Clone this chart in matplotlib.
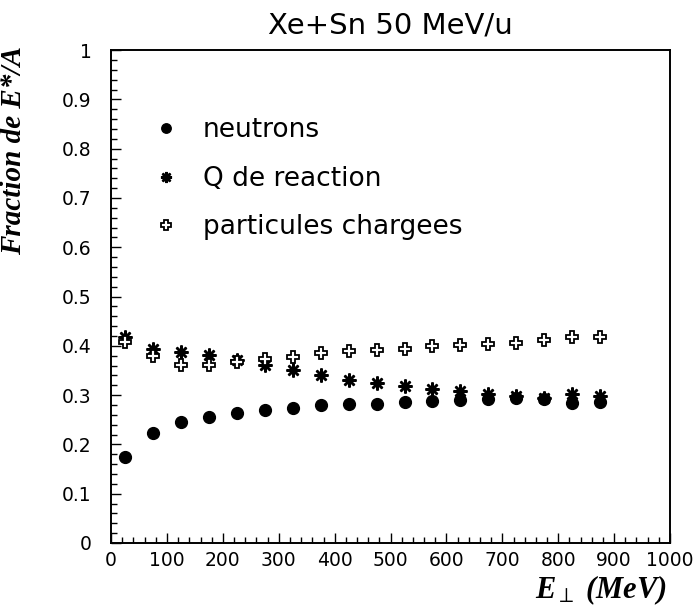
import matplotlib
matplotlib.use("Agg")
import matplotlib.pyplot as plt
from matplotlib.ticker import MultipleLocator

# transverse energy bins (MeV)
e_perp = [25, 75, 125, 175, 225, 275, 325, 375, 425,
          475, 525, 575, 625, 675, 725, 775, 825, 875]

# fraction of E*/A carried by each channel
neutrons = [0.175, 0.224, 0.245, 0.256, 0.264, 0.270, 0.274, 0.279, 0.282,
            0.283, 0.287, 0.289, 0.290, 0.293, 0.295, 0.293, 0.285, 0.286]
q_reaction = [0.417, 0.394, 0.387, 0.381, 0.371, 0.361, 0.350, 0.340, 0.331,
              0.325, 0.318, 0.313, 0.309, 0.303, 0.298, 0.295, 0.302, 0.298]
charged = [0.407, 0.380, 0.361, 0.361, 0.368, 0.373, 0.378, 0.385, 0.389,
           0.392, 0.394, 0.399, 0.402, 0.404, 0.406, 0.412, 0.418, 0.417]

labels = ["neutrons", "Q de reaction", "particules chargees"]
title = "Xe+Sn 50 MeV/u"

plt.rcParams['font.family'] = ['DejaVu Sans']
plt.rcParams['mathtext.fontset'] = 'custom'
plt.rcParams['mathtext.it'] = 'Liberation Serif:bold:italic'
plt.rcParams['mathtext.rm'] = 'Liberation Serif:bold:italic'

fig = plt.figure(figsize=(6.99, 6.11), dpi=100)
ax = fig.add_axes([0.159, 0.1113, 0.7995, 0.8067])

ax.plot(e_perp, neutrons, ls='none', marker='o', ms=8.5, color='black',
        label=labels[0])
ax.plot(e_perp, q_reaction, ls='none', marker=(8, 2, 0), ms=10, mew=1.8,
        color='black', label=labels[1])
ax.plot(e_perp, charged, ls='none', marker='P', ms=8.5, mew=1.3,
        mfc='white', mec='black', label=labels[2])

ax.set_xlim(0, 1000)
ax.set_ylim(0, 1)
ax.xaxis.set_major_locator(MultipleLocator(100))
ax.xaxis.set_minor_locator(MultipleLocator(20))
ax.yaxis.set_major_locator(MultipleLocator(0.1))
ax.yaxis.set_minor_locator(MultipleLocator(0.02))
ax.set_yticks([0, 0.1, 0.2, 0.3, 0.4, 0.5, 0.6, 0.7, 0.8, 0.9, 1.0])
ax.set_yticklabels(['0', '0.1', '0.2', '0.3', '0.4', '0.5', '0.6', '0.7',
                    '0.8', '0.9', '1'])

ax.tick_params(which='both', direction='in', top=False, right=False, width=1)
ax.tick_params(which='major', length=7.5)
ax.tick_params(which='minor', length=4)
ax.tick_params(axis='x', labelsize=13.5, pad=6)
ax.tick_params(axis='y', labelsize=13.5, pad=14)
for sp in ax.spines.values():
    sp.set_linewidth(1.4)

ax.set_title(title, fontsize=21, pad=12)

ax.set_ylabel("Fraction de E*/A", family='Liberation Serif', style='italic',
              weight='bold', fontsize=21)
ax.yaxis.set_label_coords(-0.15, 0.797)

ax.set_xlabel(r'$E_{\perp}\ (MeV)$', fontsize=22, loc='right')
ax.xaxis.set_label_coords(0.995, -0.062)

ax.legend(loc='upper left', bbox_to_anchor=(0.06, 0.885), frameon=False,
          fontsize=19, labelspacing=0.85, handlelength=0.8,
          handletextpad=1.0, markerscale=0.8, borderaxespad=0)

fig.savefig("out.png", dpi=100)
